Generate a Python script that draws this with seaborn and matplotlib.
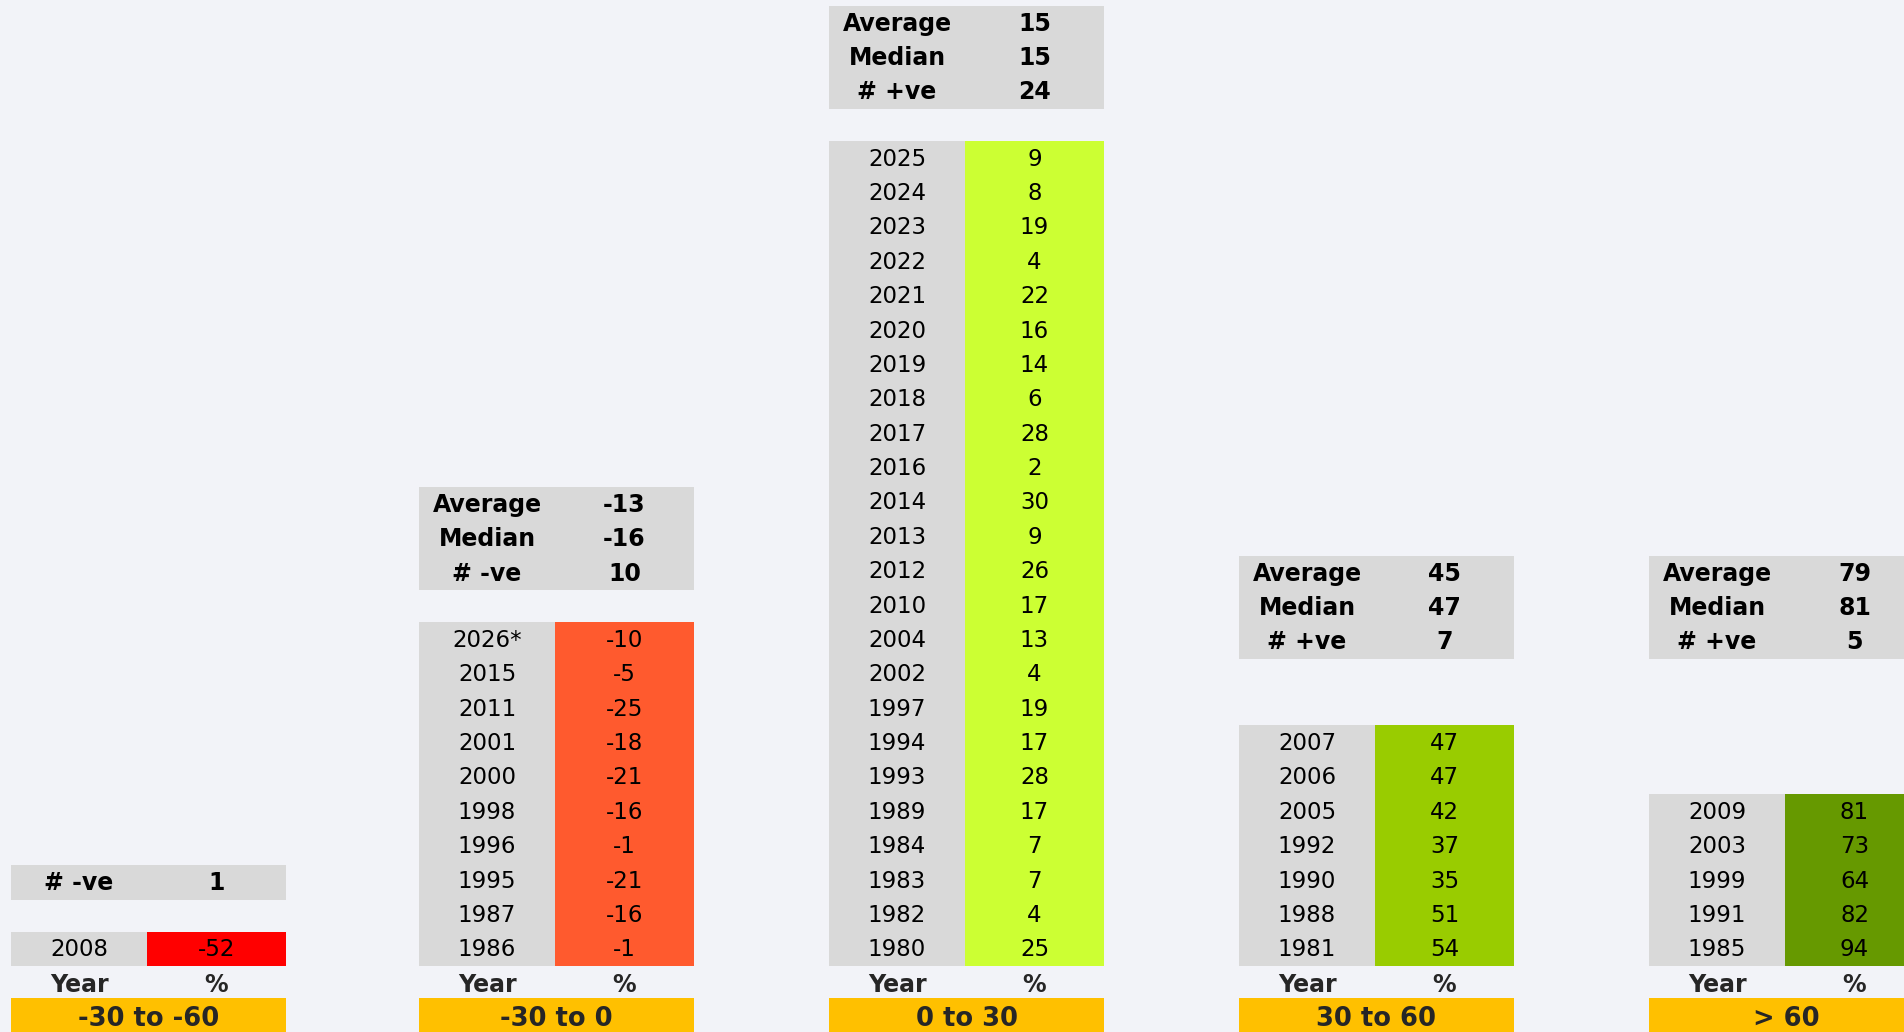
import matplotlib
matplotlib.use("Agg")
import matplotlib.pyplot as plt
import seaborn as sns
import pandas as pd

# ---------------- data ----------------
group_labels = ["-30 to -60", "-30 to 0", "0 to 30", "30 to 60", "> 60"]

years_g1 = ["2008"]
values_g1 = [-52]
stats_names_g1 = ["# -ve"]
stats_values_g1 = [1]

years_g2 = ["2026*", "2015", "2011", "2001", "2000", "1998", "1996", "1995", "1987", "1986"]
values_g2 = [-10, -5, -25, -18, -21, -16, -1, -21, -16, -1]
stats_names_g2 = ["Average", "Median", "# -ve"]
stats_values_g2 = [-13, -16, 10]

years_g3 = ["2025", "2024", "2023", "2022", "2021", "2020", "2019", "2018", "2017", "2016",
            "2014", "2013", "2012", "2010", "2004", "2002", "1997", "1994", "1993", "1989",
            "1984", "1983", "1982", "1980"]
values_g3 = [9, 8, 19, 4, 22, 16, 14, 6, 28, 2, 30, 9, 26, 17, 13, 4, 19, 17, 28, 17, 7, 7, 4, 25]
stats_names_g3 = ["Average", "Median", "# +ve"]
stats_values_g3 = [15, 15, 24]

years_g4 = ["2007", "2006", "2005", "1992", "1990", "1988", "1981"]
values_g4 = [47, 47, 42, 37, 35, 51, 54]
stats_names_g4 = ["Average", "Median", "# +ve"]
stats_values_g4 = [45, 47, 7]

years_g5 = ["2009", "2003", "1999", "1991", "1985"]
values_g5 = [81, 73, 64, 82, 94]
stats_names_g5 = ["Average", "Median", "# +ve"]
stats_values_g5 = [79, 81, 5]

header_year = "Year"
header_pct = "%"

# ---------------- styling / layout ----------------
BG = "#F2F3F8"
GRAY = "#D9D9D9"
LABEL_BG = "#FFC000"
value_colors = ["#FF0000", "#FF5A2E", "#CCFF33", "#99CC00", "#669900"]
gap_rows = [1, 1, 1, 2, 4]
group_left = [11, 419, 829, 1239, 1649]
year_w = 136
val_w = 139
ROW_H = 34.375
GAP_H = 32.0
DATA_BOTTOM = 966.0
LABEL_TOP = 998.0

sns.set_theme(style="white")
plt.rcParams["font.family"] = ["DejaVu Sans"]

groups = [
    (years_g1, values_g1, stats_names_g1, stats_values_g1),
    (years_g2, values_g2, stats_names_g2, stats_values_g2),
    (years_g3, values_g3, stats_names_g3, stats_values_g3),
    (years_g4, values_g4, stats_names_g4, stats_values_g4),
    (years_g5, values_g5, stats_names_g5, stats_values_g5),
]

# build cell table (y in pixel units from top, cell top edge)
rows = []
for gi, (yrs, vals, snames, svals) in enumerate(groups):
    n = len(yrs)
    for k, (yv, vv) in enumerate(zip(yrs, vals)):
        top = DATA_BOTTOM - (n - k) * ROW_H
        rows.append(dict(group=gi, kind="data", top=top, year=yv, value=vv))
    data_top = DATA_BOTTOM - n * ROW_H
    stats_bottom = data_top - (GAP_H + (gap_rows[gi] - 1) * ROW_H)
    m = len(snames)
    for k, (sn, sv) in enumerate(zip(snames, svals)):
        top = stats_bottom - (m - k) * ROW_H
        rows.append(dict(group=gi, kind="stat", top=top, year=sn, value=sv))
cells = pd.DataFrame(rows)

fig = plt.figure(figsize=(19.04, 10.32), dpi=100, facecolor=BG)
ax = fig.add_axes([0, 0, 1, 1])
ax.set_facecolor(BG)
ax.set_xlim(0, 1904)
ax.set_ylim(1032, 0)
ax.axis("off")

FS = 16.5
for gi in range(5):
    sub = cells[cells.group == gi]
    x0 = group_left[gi]
    xc_year = x0 + year_w / 2
    xc_val = x0 + year_w + val_w / 2
    d = sub[sub.kind == "data"]
    s = sub[sub.kind == "stat"]
    ax.bar([x0] * len(d), [ROW_H] * len(d), bottom=d.top, width=year_w, align="edge",
           color=GRAY, linewidth=0)
    ax.bar([x0 + year_w] * len(d), [ROW_H] * len(d), bottom=d.top, width=val_w, align="edge",
           color=value_colors[gi], linewidth=0)
    ax.bar([x0] * len(s), [ROW_H] * len(s), bottom=s.top, width=year_w + val_w, align="edge",
           color=GRAY, linewidth=0)
    for _, r in d.iterrows():
        yc = r.top + ROW_H / 2 + 1
        ax.text(xc_year, yc, r.year, ha="center", va="center", fontsize=FS, color="black")
        ax.text(xc_val, yc, f"{r.value}", ha="center", va="center", fontsize=FS, color="black")
    for _, r in s.iterrows():
        yc = r.top + ROW_H / 2 + 0.5
        ax.text(xc_year, yc, r.year, ha="center", va="center", fontsize=FS + 0.5,
                fontweight="bold", color="black")
        ax.text(xc_val, yc, f"{r.value}", ha="center", va="center", fontsize=FS + 0.5,
                fontweight="bold", color="black")
    ax.text(xc_year, 984.5, header_year, ha="center", va="center", fontsize=FS + 0.5,
            fontweight="bold")
    ax.text(xc_val, 984.5, header_pct, ha="center", va="center", fontsize=FS + 0.5,
            fontweight="bold")
    ax.bar([x0], [40], bottom=[LABEL_TOP], width=year_w + val_w, align="edge",
           color=LABEL_BG, linewidth=0)
    ax.text(x0 + (year_w + val_w) / 2, 1019.5, group_labels[gi], ha="center", va="center",
            fontsize=FS + 2, fontweight="bold")

fig.savefig("out.png", dpi=100, facecolor=BG)
